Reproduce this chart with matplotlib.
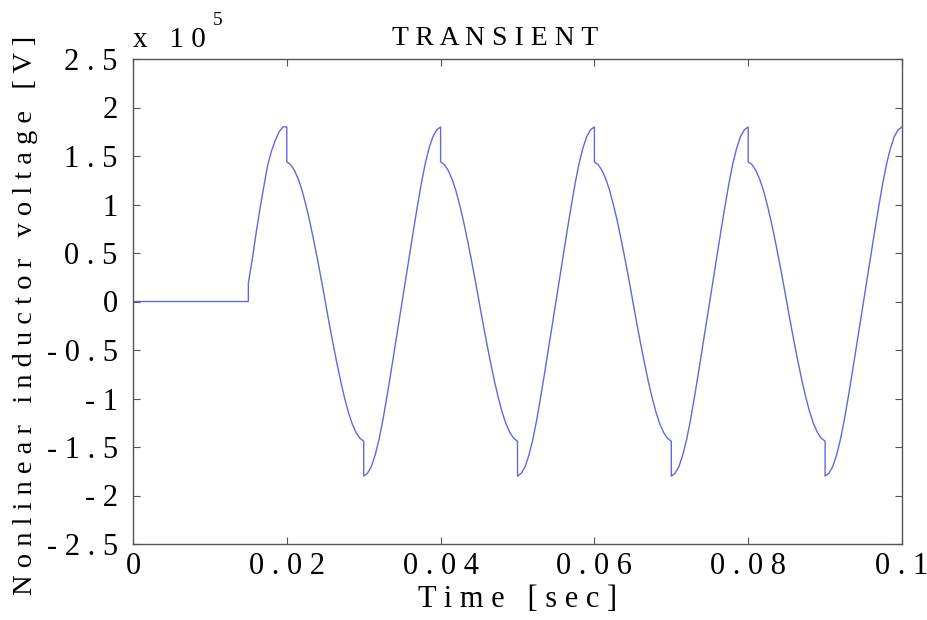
import matplotlib
matplotlib.use("Agg")
import matplotlib.pyplot as plt
import numpy as np

# startup: inductor voltage is zero until the switch closes
startup_t = [0.0, 0.015]
startup_v = [0.0, 0.0]

# first half-wave after switching (x 1e5 V)
first_rise_t = [0.015, 0.015, 0.0155, 0.016, 0.0165, 0.017, 0.0175,
                0.018, 0.0185, 0.019, 0.0195, 0.02]
first_rise_v = [0.0, 0.19, 0.43, 0.70, 0.95, 1.18, 1.40,
                1.55, 1.66, 1.75, 1.80, 1.80]

# one steady-state cycle, time in ms from the positive drop
fall_tau_ms = [0.0, 0.5, 1.0, 1.5, 2.0, 2.5, 3.0, 3.5, 4.0, 4.5, 5.0,
               5.5, 6.0, 6.5, 7.0, 7.5, 8.0, 8.5, 9.0, 9.5, 10.0]
fall_v = [1.44, 1.41, 1.35, 1.26, 1.14, 0.99, 0.82, 0.63, 0.43, 0.22, 0.0,
          -0.22, -0.43, -0.63, -0.82, -0.99, -1.14, -1.26, -1.35, -1.41, -1.44]
rise_tau_ms = [10.0, 10.5, 11.0, 11.5, 12.0, 12.5, 13.0, 13.5, 14.0, 14.5, 15.0,
               15.5, 16.0, 16.5, 17.0, 17.5, 18.0, 18.5, 19.0, 19.5, 20.0]
rise_v = [-1.80, -1.77, -1.70, -1.58, -1.42, -1.22, -0.99, -0.75, -0.50, -0.25, 0.0,
          0.25, 0.50, 0.75, 0.99, 1.22, 1.42, 1.58, 1.70, 1.77, 1.80]
cycle_starts = [0.02, 0.04, 0.06, 0.08]

xticks = [0, 0.02, 0.04, 0.06, 0.08, 0.1]
xtick_labels = ["0", "0.02", "0.04", "0.06", "0.08", "0.1"]
yticks = [2.5, 2, 1.5, 1, 0.5, 0, -0.5, -1, -1.5, -2, -2.5]
ytick_labels = ["2.5", "2", "1.5", "1", "0.5", "0", "-0.5", "-1", "-1.5", "-2", "-2.5"]


def spaced(s):
    return " ".join(s)


# stitch the trace together
t = list(startup_t) + list(first_rise_t)
v = list(startup_v) + list(first_rise_v)
for c in cycle_starts:
    t += [c + x / 1000.0 for x in fall_tau_ms + rise_tau_ms]
    v += fall_v + rise_v
t = np.array(t)
v = np.array(v) * 1e5

plt.rcParams['font.family'] = ['Liberation Serif', 'DejaVu Serif']

fig = plt.figure(figsize=(9.28, 6.2), dpi=100)
ax = fig.add_axes([133 / 928, 76 / 620, 769 / 928, 485 / 620])
ax.plot(t, v, color="#6666dd", lw=1.0)

ax.set_xlim(0, 0.1)
ax.set_ylim(-2.5e5, 2.5e5)
ax.set_xticks(xticks)
ax.set_xticklabels([spaced(s) for s in xtick_labels], fontsize=22)
ax.set_yticks([y * 1e5 for y in yticks])
ax.set_yticklabels([spaced(s) for s in ytick_labels], fontsize=22)
ax.tick_params(direction="in", length=5, width=0.8, color="#555555",
               top=True, right=True)
ax.tick_params(axis="x", pad=6)
ax.tick_params(axis="y", pad=11)
for sp in ax.spines.values():
    sp.set_color("#555555")
    sp.set_linewidth(1.0)

ax.set_title(spaced("TRANSIENT"), fontsize=20, pad=10, x=0.471)
ax.set_xlabel("   ".join(spaced(w) for w in ["Time", "[sec]"]), fontsize=22)
ax.xaxis.set_label_coords(0.5, -0.085)
ax.set_ylabel("   ".join(spaced(w) for w in ["Nonlinear", "inductor", "voltage", "[V]"]),
              fontsize=20.5)
ax.yaxis.set_label_coords(-0.124, 0.472)

# exponent label in the top-left corner
fig.text(133 / 928, 1 - 47 / 620, "x   1 0", fontsize=21, ha="left", va="baseline")
fig.text(213 / 928, 1 - 25 / 620, "5", fontsize=14, ha="left", va="baseline")

fig.savefig("out.png", dpi=100)
